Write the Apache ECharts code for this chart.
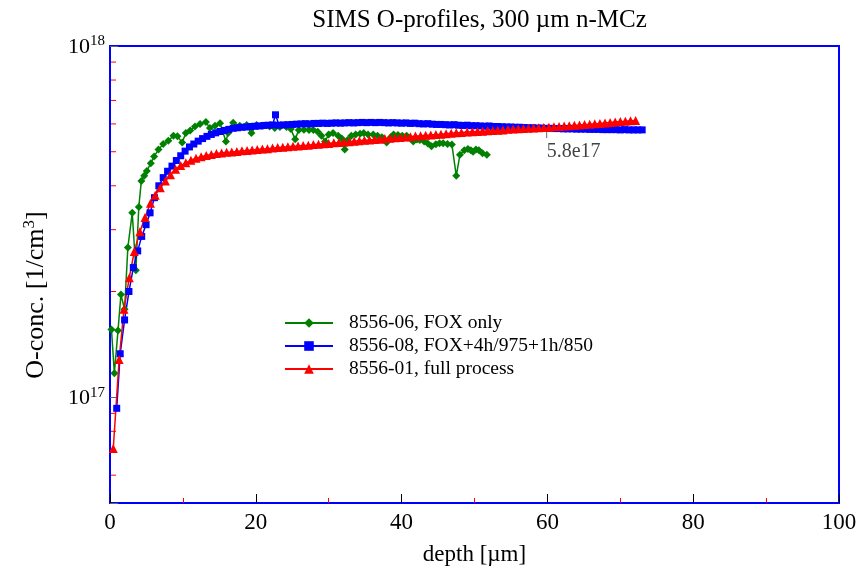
<!DOCTYPE html>
<html><head><meta charset="utf-8">
<script src="https://cdn.jsdelivr.net/npm/echarts@6/dist/echarts.min.js"></script>
<style>html,body{margin:0;padding:0;background:#fff}#c{width:865px;height:574px}</style>
</head><body><div id="c"></div>
<script>
// ---- data (concentrations in units of 1e17 / cm^3) ----
const seriesNames = ['8556-06, FOX only', '8556-08, FOX+4h/975+1h/850', '8556-01, full process'];
const xTickValues = [0, 20, 40, 60, 80, 100];
const yMinorTicks = [6e16, 7e16, 8e16, 9e16, 2e17, 3e17, 4e17, 5e17, 6e17, 7e17, 8e17, 9e17];

const greenDepth = [0.2,0.6,1.1,1.5,2.0,2.45,3.05,3.55,3.95,4.3,4.7,5.05,5.6,6.05,6.65,7.3,8.0,8.7,9.25,9.9,10.4,11.0,11.65,12.35,13.15,13.7,14.4,15.1,15.9,16.2,16.9,17.8,18.75,19.4,20.1,21.0,21.9,22.6,23.3,24.2,24.8,25.4,25.9,26.6,27.3,27.9,28.5,29.0,29.5,30.0,30.6,31.3,31.8,32.2,32.6,33.1,33.7,34.3,34.8,35.4,36.1,36.7,37.3,37.95,38.5,38.9,39.5,40.1,40.7,41.2,41.6,42.1,42.5,43.1,43.6,44.1,44.7,45.2,45.7,46.3,46.9,47.5,48.0,48.6,49.1,49.5,49.8,50.2,50.6,51.1,51.7];
const greenConc = [1.56,1.17,1.55,1.96,1.78,2.67,3.35,2.30,3.48,4.13,4.27,4.41,4.64,4.85,5.07,5.26,5.37,5.55,5.53,5.31,5.65,5.75,5.90,6.00,6.08,5.84,5.93,6.03,5.35,5.65,6.05,5.93,5.96,5.65,5.96,5.93,5.90,5.84,5.88,5.88,5.80,5.43,5.77,5.78,5.77,5.77,5.70,5.55,5.35,5.60,5.65,5.55,5.45,5.07,5.40,5.55,5.60,5.63,5.65,5.60,5.60,5.55,5.50,5.31,5.50,5.60,5.58,5.55,5.55,5.45,5.35,5.42,5.40,5.35,5.28,5.18,5.25,5.29,5.29,5.26,5.24,4.27,4.90,5.05,5.09,5.05,5.00,5.07,5.05,4.95,4.90];

const blueDepth = [0.92,1.4,2.0,2.6,3.2,3.8,4.35,4.95,5.5,6.1,6.7,7.3,7.9,8.5,9.1,9.7,10.3,10.9,11.5,12.1,12.7,13.3,13.9,14.5,15.1,15.7,16.3,16.9,17.5,18.1,18.7,19.3,19.9,20.5,21.1,21.7,22.3,22.7,23.2,23.8,24.4,25.0,25.6,26.2,26.8,27.4,28.0,28.6,29.2,29.8,30.4,31.0,31.6,32.2,32.8,33.4,34.0,34.6,35.2,35.8,36.4,37.0,37.6,38.2,38.8,39.4,40.0,40.6,41.2,41.8,42.4,43.0,43.6,44.2,44.8,45.4,46.0,46.6,47.2,47.8,48.4,49.0,49.6,50.2,50.8,51.4,52.0,52.6,53.2,53.8,54.4,55.0,55.6,56.2,56.8,57.4,58.0,58.6,59.2,59.8,60.4,61.0,61.6,62.2,62.8,63.4,64.0,64.6,65.2,65.8,66.4,67.0,67.6,68.2,68.8,69.4,70.0,70.6,71.2,71.8,72.4,73.0];
const blueConc = [0.93,1.33,1.66,2.00,2.34,2.61,2.87,3.10,3.35,3.70,4.00,4.22,4.40,4.55,4.72,4.87,5.02,5.16,5.26,5.36,5.45,5.53,5.60,5.66,5.71,5.75,5.79,5.83,5.85,5.87,5.88,5.90,5.91,5.92,5.94,5.95,5.96,6.37,5.95,5.96,5.97,5.98,5.99,6.00,6.01,6.00,6.02,6.02,6.03,6.02,6.03,6.04,6.03,6.04,6.05,6.04,6.05,6.06,6.05,6.06,6.05,6.06,6.05,6.04,6.05,6.04,6.03,6.04,6.02,6.03,6.01,6.00,6.01,5.99,5.98,5.98,5.97,5.96,5.97,5.95,5.94,5.95,5.93,5.93,5.92,5.91,5.92,5.90,5.90,5.89,5.88,5.88,5.87,5.87,5.86,5.85,5.85,5.84,5.84,5.83,5.83,5.82,5.82,5.81,5.81,5.81,5.80,5.80,5.80,5.79,5.79,5.79,5.78,5.78,5.78,5.78,5.77,5.78,5.77,5.77,5.77,5.77];

const redDepth = [0.45,1.25,1.92,2.65,3.33,4.1,4.8,5.55,6.2,6.9,7.6,8.3,9.0,9.7,10.4,11.1,11.8,12.5,13.2,13.9,14.6,15.3,16.0,16.7,17.4,18.1,18.8,19.5,20.2,20.9,21.6,22.3,23.0,23.7,24.4,25.1,25.8,26.5,27.2,27.9,28.6,29.3,30.0,30.7,31.4,32.1,32.8,33.5,34.2,34.9,35.6,36.3,37.0,37.7,38.4,39.1,39.8,40.5,41.2,41.9,42.6,43.3,44.0,44.7,45.4,46.1,46.8,47.5,48.2,49.0,49.7,50.4,51.1,51.8,52.5,53.2,53.9,54.6,55.3,56.0,56.7,57.4,58.1,58.8,59.5,60.2,60.9,61.6,62.3,63.0,63.7,64.4,65.1,65.8,66.5,67.2,67.9,68.6,69.3,70.0,70.7,71.4,72.1];
const redConc = [0.715,1.28,1.78,2.19,2.60,2.96,3.25,3.57,3.76,3.95,4.13,4.30,4.46,4.57,4.65,4.73,4.79,4.84,4.88,4.91,4.94,4.96,4.98,4.99,5.01,5.03,5.04,5.06,5.07,5.09,5.10,5.12,5.14,5.15,5.17,5.18,5.19,5.21,5.22,5.24,5.25,5.27,5.28,5.30,5.31,5.33,5.34,5.36,5.37,5.39,5.40,5.42,5.43,5.45,5.46,5.48,5.49,5.51,5.52,5.54,5.55,5.57,5.58,5.60,5.61,5.63,5.64,5.66,5.67,5.69,5.70,5.71,5.72,5.74,5.75,5.76,5.77,5.79,5.80,5.81,5.82,5.83,5.84,5.85,5.86,5.87,5.89,5.90,5.92,5.93,5.95,5.96,5.98,5.99,6.01,6.02,6.04,6.06,6.08,6.10,6.11,6.13,6.14];

const noteDepth = 59.9;
const noteConc = 5.8;
const noteText = '5.8e17';

// ---- chart ----
const SERIF = "'Liberation Serif','DejaVu Serif',serif";
const UNIT = 1e17;
function pairs(xs, ys) { return xs.map((x, i) => [x, ys[i] * UNIT]); }

const chart = echarts.init(document.getElementById('c'), null, { renderer: 'canvas' });

function mkLine(name, color, symbol, size, xs, ys) {
  return {
    name, type: 'line', data: pairs(xs, ys),
    symbol, symbolSize: size, showSymbol: true, showAllSymbol: true,
    lineStyle: { color, width: 1.5 }, itemStyle: { color },
    emphasis: { disabled: true }, animation: false, z: 3
  };
}

chart.setOption({
  backgroundColor: '#fff',
  animation: false,
  title: {
    text: 'SIMS O-profiles, 300 µm n-MCz', left: 474.5, textAlign: 'center', top: 3,
    textStyle: { fontFamily: SERIF, fontSize: 25, fontWeight: 'normal', color: '#000' }
  },
  grid: { left: 110, right: 26, top: 46, bottom: 71, show: true, borderColor: '#0000ff', borderWidth: 2, containLabel: false },
  legend: {
    data: seriesNames.map(n => ({ name: n })),
    orient: 'vertical', left: 279, top: 308,
    itemWidth: 48, itemHeight: 12, itemGap: 3,
    textStyle: { fontFamily: SERIF, fontSize: 19.5, color: '#000', padding: [0, 0, 0, 11] },
    selectedMode: false
  },
  xAxis: {
    type: 'value', min: 0, max: 100, interval: 20,
    name: 'depth [µm]', nameLocation: 'middle', nameGap: 40,
    nameTextStyle: { fontFamily: SERIF, fontSize: 23, color: '#000' },
    axisLine: { show: true, lineStyle: { color: '#0000ff', width: 2 } },
    axisTick: { show: true, inside: true, length: 9, lineStyle: { color: '#000' } },
    minorTick: { show: true, splitNumber: 2, length: 5, lineStyle: { color: '#ff0000' } },
    axisLabel: { fontFamily: SERIF, fontSize: 23, color: '#000', margin: 8 },
    splitLine: { show: false }, minorSplitLine: { show: false }
  },
  yAxis: {
    type: 'log', logBase: 10, min: 5e16, max: 1e18,
    axisLine: { show: true, lineStyle: { color: '#0000ff', width: 2 } },
    axisTick: { show: true, inside: true, length: 8, lineStyle: { color: '#666' } },
    axisLabel: {
      margin: 5, color: '#000',
      formatter: function (v) {
        const l = Math.log10(v), e = Math.round(l);
        if (Math.abs(l - e) > 1e-6) return '';
        return '{b|10}{s|' + e + '}';
      },
      rich: {
        b: { fontFamily: SERIF, fontSize: 22, color: '#000', verticalAlign: 'bottom' },
        s: { fontFamily: SERIF, fontSize: 15, color: '#000', verticalAlign: 'bottom', padding: [0, 0, 9, 0] }
      }
    },
    splitLine: { show: false }
  },
  graphic: [{
    type: 'text', x: 35, y: 295, rotation: Math.PI / 2,
    style: {
      text: '{a|O-conc. [1/cm}{s|3}{a|]}',
      align: 'center', verticalAlign: 'middle',
      rich: {
        a: { fontFamily: SERIF, fontSize: 26, fill: '#000', verticalAlign: 'bottom' },
        s: { fontFamily: SERIF, fontSize: 17, fill: '#000', verticalAlign: 'bottom', padding: [0, 0, 11, 0] }
      }
    }
  }],
  series: [
    mkLine(seriesNames[0], '#008000', 'diamond', 8, greenDepth, greenConc),
    mkLine(seriesNames[1], '#0000ff', 'rect', 7, blueDepth, blueConc),
    mkLine(seriesNames[2], '#ff0000', 'triangle', 9, redDepth, redConc),
    {
      name: 'minorTicks', type: 'custom', coordinateSystem: 'cartesian2d',
      data: yMinorTicks.map(v => [0, v]), silent: true, z: 5,
      renderItem: function (params, api) {
        const p = api.coord([0, api.value(1)]);
        return { type: 'line', shape: { x1: p[0] + 1, y1: p[1], x2: p[0] + 6, y2: p[1] }, style: { stroke: '#ff0000', lineWidth: 1 } };
      }
    },
    {
      name: 'note', type: 'scatter', data: [[noteDepth, noteConc * UNIT]], silent: true, z: 6,
      symbol: 'rect', symbolSize: [1, 6], symbolOffset: [0, 6],
      itemStyle: { color: '#444' },
      label: { show: true, formatter: noteText, position: 'inside', align: 'left', verticalAlign: 'middle', offset: [0, 17],
        fontFamily: SERIF, fontSize: 20, color: '#111' }
    }
  ]
});
</script>
</body></html>
